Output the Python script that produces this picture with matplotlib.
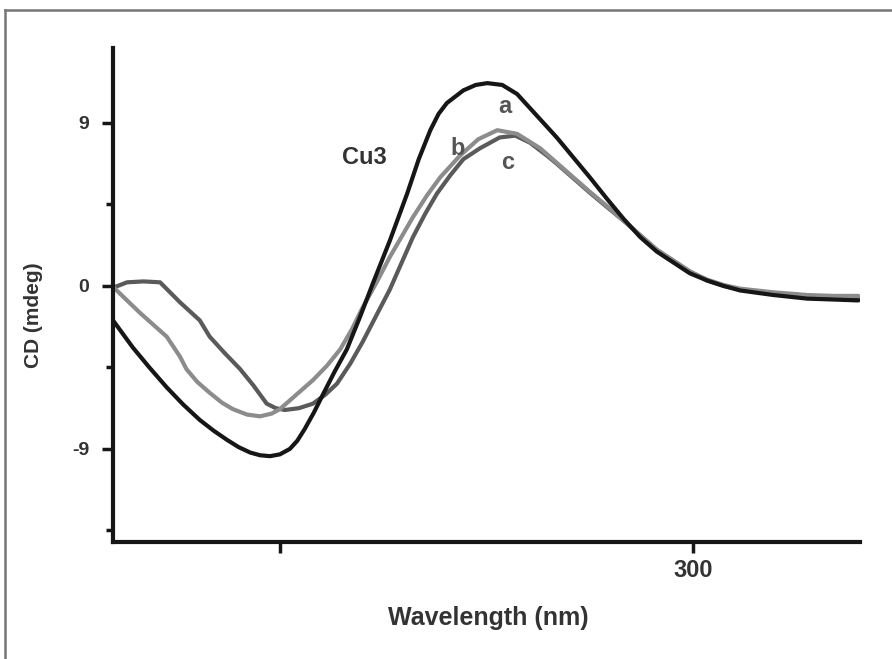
import matplotlib.pyplot as plt
from matplotlib.lines import Line2D

# wavelength (nm) / CD (mdeg)
wl_a = [229.8, 231.0, 232.2, 234.2, 236.3, 238.3, 240.3, 242.0, 243.6, 245.0,
        246.4, 247.6, 248.8, 250.0, 251.2, 252.1, 253.0, 254.1, 255.2, 256.6,
        258.1, 259.7, 261.3, 263.3, 265.4, 266.8, 268.2, 269.2, 270.2, 272.2,
        273.7, 275.1, 276.9, 278.7, 280.1, 281.5, 283.5, 285.5, 287.5, 289.6,
        291.6, 293.6, 295.6, 297.6, 299.6, 301.7, 303.7, 305.7, 309.7, 313.8,
        317.0, 320.0]
cd_a = [-1.9, -2.65, -3.4, -4.5, -5.6, -6.55, -7.4, -8.0, -8.5, -8.9,
        -9.2, -9.35, -9.4, -9.3, -9.0, -8.55, -7.9, -7.0, -6.0, -4.75,
        -3.5, -1.7, 0.2, 2.5, 5.1, 7.0, 8.6, 9.5, 10.1, 10.8,
        11.1, 11.2, 11.1, 10.6, 9.9, 9.2, 8.2, 7.1, 6.0, 4.8,
        3.7, 2.7, 1.9, 1.3, 0.7, 0.3, 0.0, -0.25, -0.5, -0.7,
        -0.75, -0.8]

wl_b = [229.8, 231.5, 233.1, 234.7, 236.3, 237.9, 238.7, 240.0, 241.5, 243.0,
        244.3, 246.0, 247.6, 249.0, 250.0, 252.0, 254.0, 255.7, 257.3, 258.7,
        260.0, 261.7, 263.3, 264.7, 266.1, 267.8, 269.4, 271.8, 274.0, 276.3,
        278.7, 281.5, 283.5, 285.5, 287.5, 289.6, 291.6, 293.6, 295.6, 297.6,
        299.6, 301.7, 303.7, 305.7, 309.7, 313.8, 317.0, 320.0]
cd_b = [-0.05, -0.8, -1.5, -2.15, -2.8, -3.9, -4.6, -5.3, -5.9, -6.45,
        -6.8, -7.1, -7.2, -7.05, -6.8, -6.0, -5.2, -4.4, -3.5, -2.4,
        -1.2, 0.2, 1.6, 2.7, 3.8, 5.0, 6.0, 7.2, 8.1, 8.6,
        8.4, 7.6, 6.8, 6.0, 5.2, 4.4, 3.6, 2.8, 2.0, 1.4,
        0.8, 0.35, 0.05, -0.15, -0.35, -0.5, -0.55, -0.55]

wl_c = [229.8, 231.5, 233.5, 235.5, 236.7, 237.9, 239.1, 240.3, 241.5, 243.3,
        245.2, 246.8, 248.4, 249.5, 250.6, 252.3, 254.0, 255.5, 256.9, 258.5,
        260.0, 261.7, 263.3, 264.7, 266.1, 267.6, 269.0, 270.6, 272.2, 274.2,
        276.6, 278.5, 280.3, 282.3, 283.5, 285.5, 287.5, 289.6, 291.6, 293.6,
        295.6, 297.6, 299.6, 301.7, 303.7, 305.7, 309.7, 313.8, 317.0, 320.0]
cd_c = [-0.1, 0.2, 0.25, 0.2, -0.35, -0.9, -1.4, -1.9, -2.8, -3.7,
        -4.6, -5.5, -6.5, -6.75, -6.85, -6.75, -6.5, -6.0, -5.4, -4.3,
        -3.1, -1.6, -0.2, 1.25, 2.7, 4.0, 5.1, 6.1, 7.0, 7.6,
        8.2, 8.3, 7.9, 7.2, 6.75, 5.95, 5.15, 4.35, 3.6, 2.8,
        2.0, 1.4, 0.8, 0.3, 0.0, -0.2, -0.4, -0.6, -0.65, -0.7]

x_ticks = [250, 300]
x_tick_labels = ['', '300']
y_ticks = [-9, 0, 9]
y_minor = [-13.5, -4.5, 4.5]

font = ['Liberation Sans', 'DejaVu Sans']
txt = '#333333'

fig = plt.figure(figsize=(8.92, 6.59), dpi=100)
ax = fig.add_axes([113 / 892, 1 - 542 / 659, 747 / 892, 494 / 659])

ax.plot(wl_a, cd_a, color='#161616', lw=3.0, solid_capstyle='round',
        solid_joinstyle='round', zorder=3)
ax.plot(wl_c, cd_c, color='#5a5a5a', lw=3.0, solid_capstyle='round',
        solid_joinstyle='round', zorder=2)
ax.plot(wl_b, cd_b, color='#8c8c8c', lw=3.0, solid_capstyle='round',
        solid_joinstyle='round', zorder=2.5)

ax.set_xlim(229.8, 320.2)
ax.set_ylim(-14.14, 13.14)

ax.set_xticks(x_ticks)
ax.set_xticklabels(x_tick_labels)
ax.set_yticks(y_ticks)
ax.set_yticks(y_minor, minor=True)
ax.set_yticklabels([str(v) for v in y_ticks])

for s in ['top', 'right']:
    ax.spines[s].set_visible(False)
for s in ['left', 'bottom']:
    ax.spines[s].set_linewidth(3)
    ax.spines[s].set_color('#161616')

ax.tick_params(axis='both', which='major', direction='out', length=8, width=2.5,
               color='#161616', labelcolor=txt)
ax.tick_params(axis='y', which='minor', direction='out', length=5, width=2.5,
               color='#161616')
ax.tick_params(axis='y', which='major', pad=9)
ax.tick_params(axis='x', which='major', pad=4)
for lab in ax.get_yticklabels():
    lab.set_fontfamily(font)
    lab.set_fontweight('bold')
    lab.set_fontsize(14)
for lab in ax.get_xticklabels():
    lab.set_fontfamily(font)
    lab.set_fontweight('bold')
    lab.set_fontsize(17)

ax.set_xlabel('Wavelength (nm)', fontsize=18, fontweight='bold', color=txt,
              family=font)
ax.xaxis.set_label_coords(0.503, -0.13)
ax.set_ylabel('CD (mdeg)', fontsize=15, fontweight='bold', color=txt,
              family=font)
ax.yaxis.set_label_coords(-0.094, 0.46)

ax.text(260.2, 7.1, 'Cu3', fontsize=17, fontweight='bold', color=txt,
        family=font, ha='center', va='center')
ax.text(277.2, 9.9, 'a', fontsize=17, fontweight='bold', color='#555555',
        family=font, ha='center', va='center')
ax.text(271.5, 7.6, 'b', fontsize=17, fontweight='bold', color='#555555',
        family=font, ha='center', va='center')
ax.text(277.6, 6.8, 'c', fontsize=17, fontweight='bold', color='#555555',
        family=font, ha='center', va='center')

# outer frame, cut off on the right and bottom like the scan
fig.add_artist(Line2D([5 / 892, 5 / 892], [0, 1 - 10 / 659], transform=fig.transFigure,
                      color='#777777', lw=1.8))
fig.add_artist(Line2D([5 / 892, 1], [1 - 10 / 659, 1 - 10 / 659], transform=fig.transFigure,
                      color='#777777', lw=1.8))

fig.savefig('out.png', dpi=100)
